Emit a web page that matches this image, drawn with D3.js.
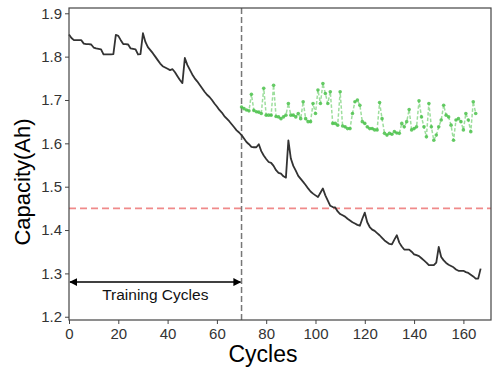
<!DOCTYPE html>
<html>
<head>
<meta charset="utf-8">
<script src="https://cdn.jsdelivr.net/npm/d3@7"></script>
<style>
  body { margin: 0; background: #fff; }
  text { font-family: "Liberation Sans", Arial, sans-serif; }
</style>
</head>
<body>
<script>
const margin = {top: 8, right: 7, bottom: 63, left: 69};
const canvasWidth = 498 - margin.left - margin.right;
const canvasHeight = 383 - margin.top - margin.bottom;

// measured capacity, one value per cycle starting at cycle 0
const capacity = [
  1.851, 1.843, 1.838, 1.838, 1.838, 1.838, 1.830, 1.829, 1.829, 1.828,
  1.821, 1.819, 1.818, 1.817, 1.805, 1.805, 1.805, 1.805, 1.806, 1.850,
  1.848, 1.838, 1.829, 1.829, 1.828, 1.819, 1.818, 1.817, 1.805, 1.806,
  1.854, 1.834, 1.822, 1.815, 1.808, 1.800, 1.792, 1.784, 1.778, 1.775,
  1.772, 1.769, 1.771, 1.764, 1.755, 1.746, 1.739, 1.797, 1.781, 1.770,
  1.759, 1.750, 1.743, 1.735, 1.727, 1.719, 1.712, 1.707, 1.700, 1.692,
  1.685, 1.677, 1.671, 1.663, 1.657, 1.651, 1.644, 1.637, 1.630, 1.625,
  1.619, 1.611, 1.603, 1.598, 1.592, 1.591, 1.591, 1.598, 1.582, 1.572,
  1.564, 1.557, 1.555, 1.548, 1.538, 1.532, 1.530, 1.524, 1.521, 1.607,
  1.565, 1.548, 1.537, 1.525, 1.518, 1.511, 1.504, 1.496, 1.489, 1.484,
  1.480, 1.476, 1.486, 1.496, 1.480, 1.468, 1.456, 1.453, 1.452, 1.443,
  1.437, 1.434, 1.431, 1.426, 1.422, 1.418, 1.415, 1.412, 1.410, 1.426,
  1.440, 1.418, 1.407, 1.401, 1.398, 1.393, 1.388, 1.382, 1.376, 1.372,
  1.368, 1.367, 1.378, 1.388, 1.371, 1.362, 1.355, 1.355, 1.355, 1.350,
  1.344, 1.342, 1.340, 1.335, 1.330, 1.325, 1.319, 1.319, 1.319, 1.325,
  1.361, 1.338, 1.330, 1.324, 1.320, 1.317, 1.314, 1.309, 1.306, 1.306,
  1.306, 1.303, 1.301, 1.297, 1.293, 1.288, 1.288, 1.311
];

// predicted capacity, cycles 70 .. 165
const predStart = 70;
const predicted = [
  1.684, 1.680, 1.677, 1.675, 1.713, 1.676, 1.673, 1.672, 1.669, 1.727,
  1.665, 1.665, 1.665, 1.734, 1.662, 1.661, 1.657, 1.661, 1.665, 1.692,
  1.665, 1.665, 1.661, 1.669, 1.657, 1.696, 1.657, 1.650, 1.650, 1.692,
  1.669, 1.723, 1.692, 1.738, 1.715, 1.692, 1.719, 1.646, 1.646, 1.642,
  1.719, 1.640, 1.638, 1.634, 1.634, 1.669, 1.696, 1.700, 1.688, 1.650,
  1.646, 1.638, 1.634, 1.634, 1.631, 1.631, 1.694, 1.657, 1.623, 1.619,
  1.623, 1.621, 1.627, 1.624, 1.623, 1.646, 1.638, 1.650, 1.678, 1.631,
  1.634, 1.638, 1.698, 1.661, 1.638, 1.615, 1.692, 1.638, 1.607, 1.619,
  1.638, 1.654, 1.688, 1.665, 1.661, 1.642, 1.607, 1.654, 1.657, 1.650,
  1.631, 1.669, 1.654, 1.627, 1.696, 1.669
];

const trainEnd = 70;
const failureThreshold = 1.45;
const xTicks = [0, 20, 40, 60, 80, 100, 120, 140, 160];
const yTicks = [1.2, 1.3, 1.4, 1.5, 1.6, 1.7, 1.8, 1.9];
const arrowLevel = 1.28;

const measuredData = capacity.map((v, i) => ({cycle: i, value: v}));
const predictedData = predicted.map((v, i) => ({cycle: predStart + i, value: v}));

let svg = d3.select("body")
  .append("svg")
  .attr("width", 498)
  .attr("height", 383);

let defs = svg.append("defs");
["arrowEnd", "arrowStart"].forEach((id, k) => {
  defs.append("marker")
    .attr("id", id)
    .attr("viewBox", "0 0 10 10")
    .attr("refX", k === 0 ? 9 : 1)
    .attr("refY", 5)
    .attr("markerWidth", 8)
    .attr("markerHeight", 8)
    .attr("markerUnits", "userSpaceOnUse")
    .attr("orient", "auto")
    .append("path")
    .attr("d", k === 0 ? "M0,0 L10,5 L0,10 z" : "M10,0 L0,5 L10,10 z")
    .attr("fill", "#000");
});

let g = svg.append("g")
  .attr("transform", "translate(" + margin.left + "," + margin.top + ")");

let xScale = d3.scaleLinear().domain([0, 171.2]).range([0, canvasWidth]);
let yScale = d3.scaleLinear().domain([1.1925, 1.9122]).range([canvasHeight, 0]);

// threshold line
g.append("line")
  .attr("x1", 0).attr("x2", canvasWidth)
  .attr("y1", yScale(failureThreshold)).attr("y2", yScale(failureThreshold))
  .attr("stroke", "#f08a8a")
  .attr("stroke-width", 1.6)
  .attr("stroke-dasharray", "7,4");

// end of training
g.append("line")
  .attr("x1", xScale(trainEnd)).attr("x2", xScale(trainEnd))
  .attr("y1", 0).attr("y2", canvasHeight)
  .attr("stroke", "#777")
  .attr("stroke-width", 1.5)
  .attr("stroke-dasharray", "6,3");

// measured capacity
let line = d3.line()
  .x(d => xScale(d.cycle))
  .y(d => yScale(d.value));

g.append("path")
  .datum(measuredData)
  .attr("fill", "none")
  .attr("stroke", "#333")
  .attr("stroke-width", 1.8)
  .attr("stroke-linejoin", "round")
  .attr("d", line);

// predicted capacity
g.append("path")
  .datum(predictedData)
  .attr("fill", "none")
  .attr("stroke", "#5cc85c")
  .attr("stroke-opacity", 0.6)
  .attr("stroke-width", 1.5)
  .attr("stroke-dasharray", "3.5,2")
  .attr("d", line);

g.selectAll(".pred")
  .data(predictedData)
  .enter()
  .append("circle")
  .attr("class", "pred")
  .attr("r", 1.8)
  .attr("cx", d => xScale(d.cycle))
  .attr("cy", d => yScale(d.value))
  .attr("fill", "#4cc24c")
  .attr("fill-opacity", 0.85);

// training window arrow
g.append("line")
  .attr("x1", xScale(0) + 1).attr("x2", xScale(trainEnd) - 1)
  .attr("y1", yScale(arrowLevel)).attr("y2", yScale(arrowLevel))
  .attr("stroke", "#000")
  .attr("stroke-width", 1.5)
  .attr("marker-start", "url(#arrowStart)")
  .attr("marker-end", "url(#arrowEnd)");

g.append("text")
  .attr("x", xScale(trainEnd / 2))
  .attr("y", yScale(arrowLevel) + 18)
  .attr("text-anchor", "middle")
  .attr("font-size", "15.5px")
  .attr("fill", "#111")
  .text("Training Cycles");

// axes
let xAxis = g.append("g")
  .attr("transform", "translate(0," + canvasHeight + ")")
  .call(d3.axisBottom(xScale).tickValues(xTicks).tickSize(4).tickPadding(4));

let yAxis = g.append("g")
  .call(d3.axisLeft(yScale).tickValues(yTicks).tickFormat(d3.format(".1f")).tickSize(4).tickPadding(3));

[xAxis, yAxis].forEach(a => {
  a.select(".domain").remove();
  a.selectAll("line").attr("stroke", "#444");
  a.selectAll("text")
    .attr("font-size", "15px")
    .attr("fill", "#333")
    .style("font-family", "'Liberation Sans', Arial, sans-serif");
});

// frame
g.append("rect")
  .attr("width", canvasWidth)
  .attr("height", canvasHeight)
  .attr("fill", "none")
  .attr("stroke", "#444")
  .attr("stroke-width", 1.2);

// axis labels
svg.append("text")
  .attr("x", 263)
  .attr("y", 362)
  .attr("text-anchor", "middle")
  .attr("font-size", "23px")
  .attr("fill", "#000")
  .text("Cycles");

svg.append("text")
  .attr("transform", "rotate(-90)")
  .attr("x", -182)
  .attr("y", 30)
  .attr("text-anchor", "middle")
  .attr("font-size", "22px")
  .attr("fill", "#000")
  .text("Capacity(Ah)");
</script>
</body>
</html>
